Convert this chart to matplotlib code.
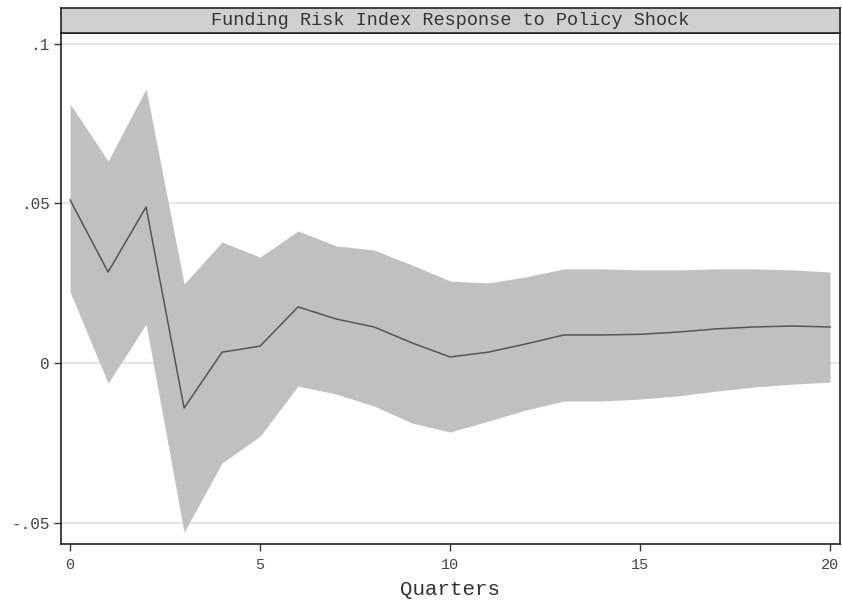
import matplotlib
matplotlib.use('Agg')
import matplotlib.pyplot as plt
import numpy as np

# Impulse response
quarters = list(range(21))
irf = [0.0511, 0.0285, 0.0489, -0.0141, 0.0034, 0.0053, 0.0176, 0.0138, 0.0113, 0.0063,
       0.0019, 0.0034, 0.0060, 0.0088, 0.0088, 0.0090, 0.0097, 0.0107, 0.0113, 0.0116, 0.0113]
upper = [0.0812, 0.0633, 0.0859, 0.0248, 0.0379, 0.0332, 0.0414, 0.0367, 0.0354, 0.0307,
         0.0257, 0.0251, 0.0270, 0.0295, 0.0295, 0.0292, 0.0292, 0.0295, 0.0295, 0.0292, 0.0285]
lower = [0.0223, -0.0063, 0.0122, -0.0530, -0.0313, -0.0229, -0.0072, -0.0097, -0.0135, -0.0188,
         -0.0216, -0.0182, -0.0147, -0.0119, -0.0119, -0.0113, -0.0103, -0.0088, -0.0075, -0.0066, -0.0060]

title = 'Funding Risk Index Response to Policy Shock'
xticks = [0, 5, 10, 15, 20]
yticks = [-0.05, 0, 0.05, 0.1]
ytick_labels = ['-.05', '0', '.05', '.1']

plt.rcParams['font.family'] = ['Liberation Mono', 'DejaVu Sans Mono']

fig = plt.figure(figsize=(8.42, 6.03), dpi=100)
ax = fig.add_axes([0.0724, 0.0978, 0.9252, 0.8475])

ax.fill_between(quarters, lower, upper, color='#c0c0c0', linewidth=0, zorder=2)
ax.plot(quarters, irf, color='#555555', linewidth=1.1, zorder=3)

ax.set_xlim(-0.24, 20.26)
ax.set_ylim(-0.0567, 0.1034)
ax.set_xticks(xticks)
ax.set_xticklabels([str(t) for t in xticks], fontsize=11, color='#444444')
ax.set_yticks(yticks)
ax.set_yticklabels(ytick_labels, fontsize=11.5, color='#444444')
ax.grid(axis='y', color='#e4e4e4', linewidth=1.3, zorder=1)
ax.tick_params(direction='out', length=5, width=1, color='#333333', pad=3)
ax.tick_params(axis='x', pad=5)
for s in ax.spines.values():
    s.set_color('#222222')
    s.set_linewidth(1.2)
ax.set_xlabel('Quarters', fontsize=15, color='#333333', labelpad=6)

# title in a grey box above the plot, Stata style
tax = fig.add_axes([0.0724, 0.9453, 0.9252, 0.0414])
tax.set_facecolor('#d0d0d0')
tax.set_xticks([])
tax.set_yticks([])
for s in tax.spines.values():
    s.set_color('#222222')
    s.set_linewidth(1.2)
tax.text(0.5, 0.5, title, ha='center', va='center', fontsize=13.3, color='#333333',
         transform=tax.transAxes)

fig.savefig('out.png', dpi=100)
